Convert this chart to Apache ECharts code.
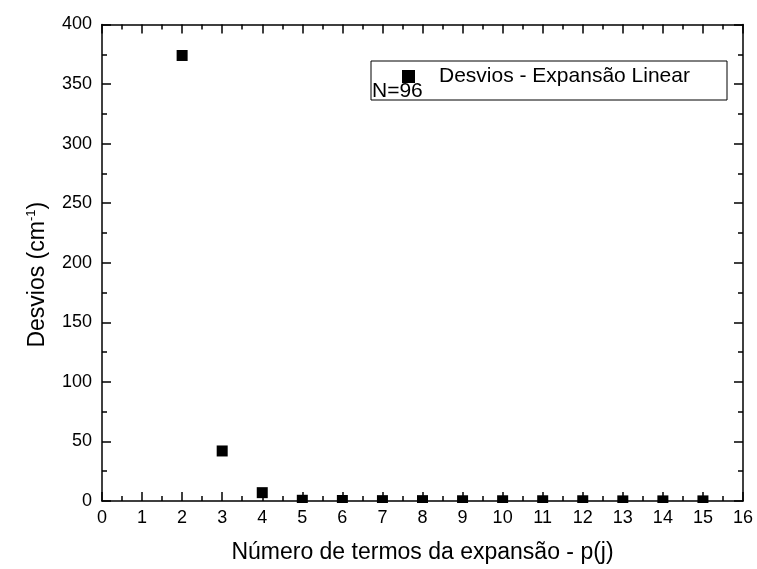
<!DOCTYPE html>
<html>
<head>
<meta charset="utf-8">
<script src="https://cdn.jsdelivr.net/npm/echarts@6/dist/echarts.min.js"></script>
<style>
  html, body { margin: 0; padding: 0; background: #fff; }
  #chart { width: 757px; height: 569px; }
</style>
</head>
<body>
<div id="chart"></div>
<script>
// Number of expansion terms and the deviation obtained for each
const terms = [2, 3, 4, 5, 6, 7, 8, 9, 10, 11, 12, 13, 14, 15];
const deviations = [374, 42, 7, 0.6, 0.4, 0.3, 0.3, 0.2, 0.2, 0.2, 0.2, 0.1, 0.1, 0.1];
const seriesName = 'Desvios - Expansão Linear';
const noteText = 'N=96';
const xTitle = 'Número de termos da expansão - p(j)';

const points = terms.map((t, i) => [t, deviations[i]]);
const font = 'Liberation Sans, Arial, sans-serif';

const axisLine = { show: true, onZero: false, lineStyle: { color: '#000', width: 1.5 } };
const tick = { show: true, inside: true, length: 9, lineStyle: { color: '#000', width: 1.5 } };
const minor = { show: true, splitNumber: 2, length: 5, lineStyle: { color: '#000', width: 1.5 } };

const chart = echarts.init(document.getElementById('chart'), null, { renderer: 'canvas' });
chart.setOption({
  animation: false,
  backgroundColor: '#fff',
  textStyle: { fontFamily: font, color: '#000' },
  grid: { left: 102, right: 14, top: 24.5, bottom: 67.3, containLabel: false },
  xAxis: [
    {
      type: 'value', min: 0, max: 16, interval: 1, position: 'bottom',
      axisLine, axisTick: tick, minorTick: minor,
      splitLine: { show: false }, minorSplitLine: { show: false },
      axisLabel: { color: '#000', fontSize: 18, fontFamily: font, margin: 8 },
      name: xTitle, nameLocation: 'middle', nameGap: 40,
      nameTextStyle: { color: '#000', fontSize: 23, fontFamily: font }
    },
    {
      type: 'value', min: 0, max: 16, interval: 1, position: 'top',
      axisLine, axisTick: tick, minorTick: minor,
      splitLine: { show: false }, axisLabel: { show: false }
    }
  ],
  yAxis: [
    {
      type: 'value', min: 0, max: 400, interval: 50, position: 'left',
      axisLine, axisTick: tick, minorTick: minor,
      splitLine: { show: false }, minorSplitLine: { show: false },
      axisLabel: { color: '#000', fontSize: 18, fontFamily: font, margin: 10 },
      name: '{t|Desvios (cm}{s|-1}{t|)}', nameLocation: 'middle', nameGap: 52,
      nameTextStyle: {
        color: '#000', fontFamily: font, padding: [0, 24, 0, 0],
        rich: {
          t: { fontSize: 23, fontFamily: font, color: '#000' },
          s: { fontSize: 13, fontFamily: font, color: '#000', verticalAlign: 'top', padding: [0, 0, 12, 0] }
        }
      }
    },
    {
      type: 'value', min: 0, max: 400, interval: 50, position: 'right',
      axisLine, axisTick: tick, minorTick: minor,
      splitLine: { show: false }, axisLabel: { show: false }
    }
  ],
  legend: {
    left: 402, top: 66, orient: 'vertical', padding: 0,
    icon: 'rect', itemWidth: 13, itemHeight: 13,
    textStyle: { fontSize: 21, fontFamily: font, color: '#000', padding: [0, 0, 0, 19] },
    data: [seriesName]
  },
  graphic: [
    // mask below the bottom axis so markers stop at the frame
    { type: 'rect', shape: { x: 104, y: 503, width: 638, height: 5.5 },
      style: { fill: '#fff' }, z: 5, silent: true },
    { type: 'rect', shape: { x: 371, y: 61, width: 356, height: 39 },
      style: { fill: 'none', stroke: '#000', lineWidth: 1 }, z: 10 },
    { type: 'text', left: 372, top: 81,
      style: { text: noteText, font: '21px ' + font, fill: '#000' }, z: 10 }
  ],
  series: [{
    name: seriesName, type: 'scatter', data: points,
    symbol: 'rect', symbolSize: 11,
    itemStyle: { color: '#000', opacity: 1 }, xAxisIndex: 0, yAxisIndex: 0
  }]
});
</script>
</body>
</html>
